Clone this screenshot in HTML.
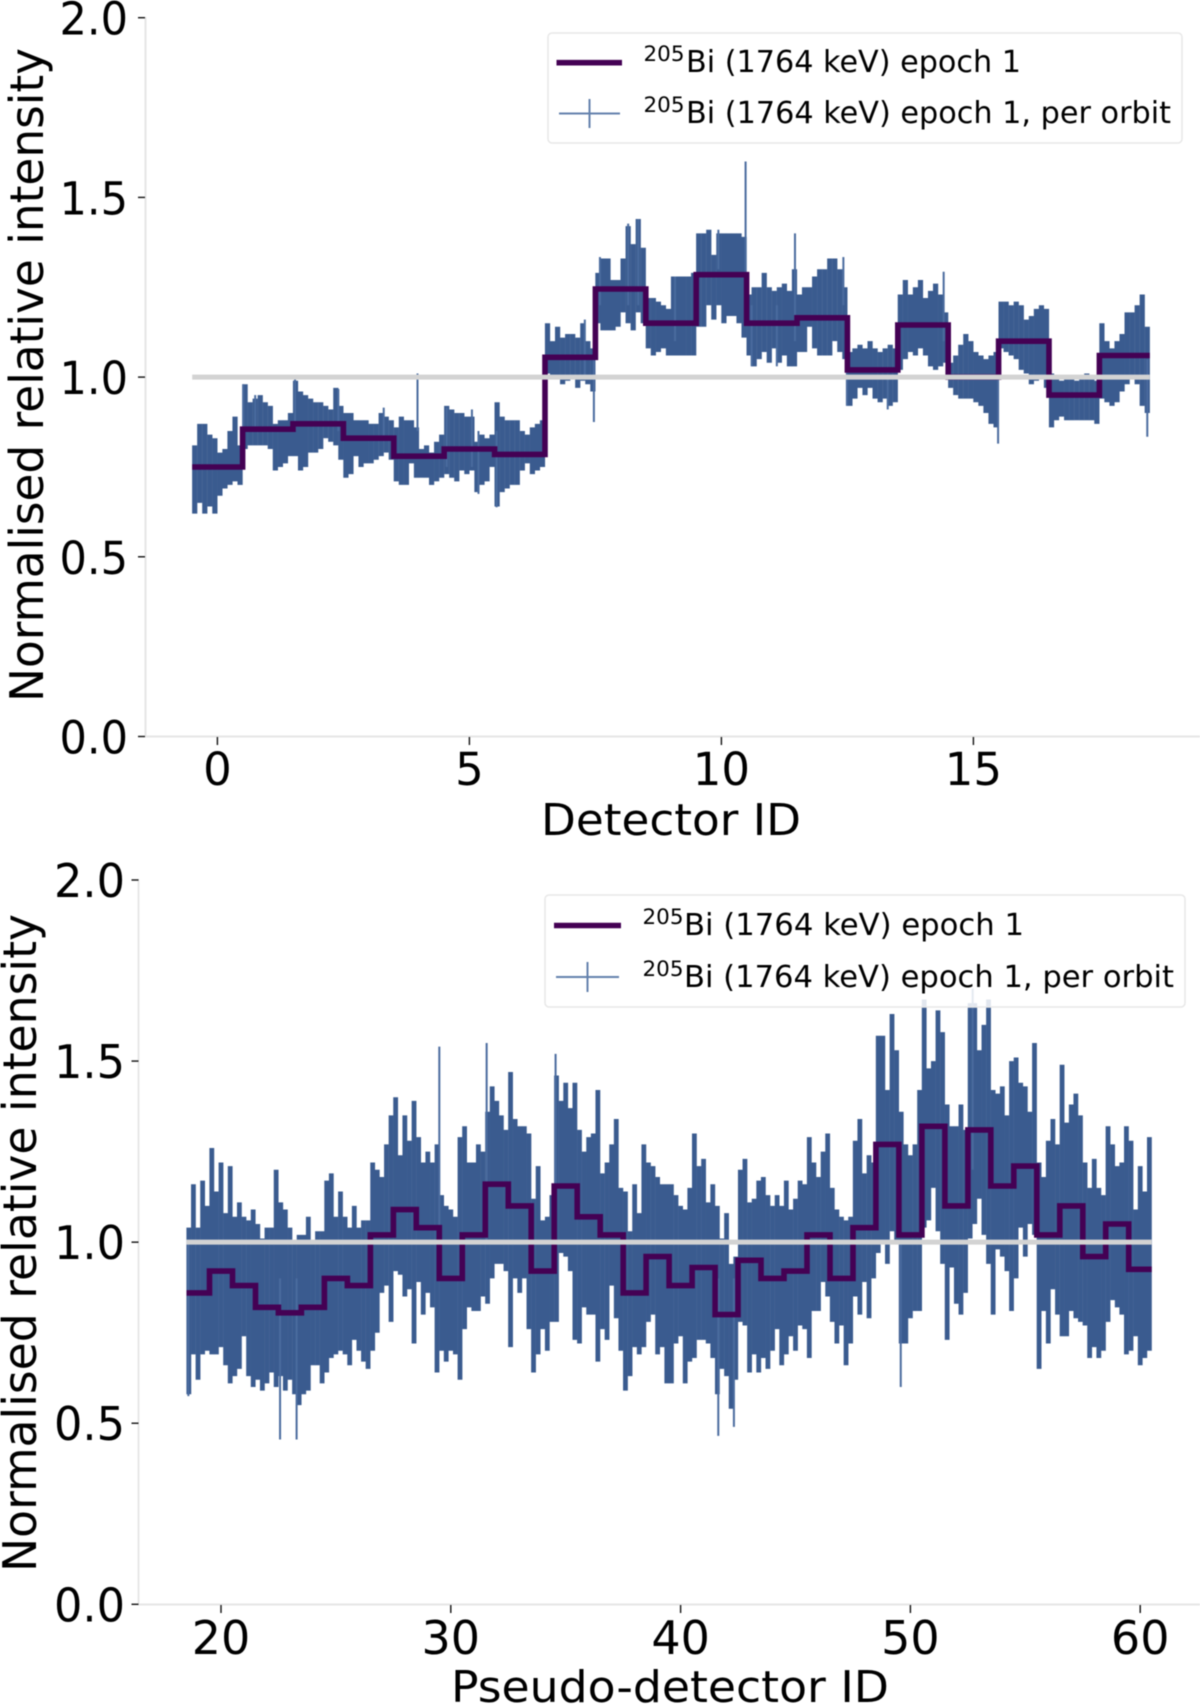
<!DOCTYPE html>
<html lang="en">
<head>
<meta charset="utf-8">
<title>205Bi normalised relative intensity per detector</title>
<style>
html,body{margin:0;padding:0;background:#fff;}
svg{display:block;filter:blur(.55px);}
text{font-family:"DejaVu Sans","Liberation Sans",sans-serif;fill:#000;}
</style>
</head>
<body>
<svg id="figure" xmlns="http://www.w3.org/2000/svg" width="1200" height="1707" viewBox="0 0 1200 1707">
  <rect x="0" y="0" width="1200" height="1707" fill="#fff"/>

  <g id="top-panel">
    <line x1="145.5" y1="17" x2="145.5" y2="737.5" stroke="#e6e6e6" stroke-width="2"/>
    <line x1="145" y1="736.5" x2="1200" y2="736.5" stroke="#e6e6e6" stroke-width="2"/>
    <g id="top-ticks"></g>
    <g id="top-bars"></g>
    <path id="top-step" fill="none" stroke="#440154" stroke-width="5.6"/>
    <line id="top-ref" stroke="#d3d3d3" stroke-width="5"/>
    <text x="541" y="835" font-size="44" textLength="260" lengthAdjust="spacingAndGlyphs">Detector ID</text>
    <text transform="translate(43,702) rotate(-90)" font-size="46" textLength="654" lengthAdjust="spacingAndGlyphs">Normalised relative intensity</text>
    <g>
      <rect x="548" y="33" width="634" height="110" rx="4" fill="#fff" fill-opacity=".85" stroke="#e8e8e8" stroke-width="1.5"/>
      <line x1="556.5" y1="62.7" x2="622" y2="62.7" stroke="#440154" stroke-width="5.6"/>
      <line x1="559" y1="113.5" x2="620" y2="113.5" stroke="#6482ad" stroke-width="2"/>
      <line x1="589.5" y1="99" x2="589.5" y2="128" stroke="#6482ad" stroke-width="2"/>
      <text x="643.5" y="61" font-size="21" textLength="41" lengthAdjust="spacingAndGlyphs">205</text>
      <text x="686" y="72" font-size="30" textLength="335" lengthAdjust="spacingAndGlyphs">Bi (1764 keV) epoch 1</text>
      <text x="643.5" y="112" font-size="21" textLength="41" lengthAdjust="spacingAndGlyphs">205</text>
      <text x="686" y="123" font-size="30" textLength="485" lengthAdjust="spacingAndGlyphs">Bi (1764 keV) epoch 1, per orbit</text>
    </g>
  </g>

  <g id="bottom-panel">
    <line x1="138.5" y1="879" x2="138.5" y2="1605" stroke="#e2e2e2" stroke-width="1.5"/>
    <line x1="138" y1="1604.5" x2="1200" y2="1604.5" stroke="#e6e6e6" stroke-width="2"/>
    <g id="bottom-ticks"></g>
    <g id="bottom-bars"></g>
    <path id="bottom-step" fill="none" stroke="#440154" stroke-width="5.6"/>
    <line id="bottom-ref" stroke="#d3d3d3" stroke-width="5"/>
    <text x="451" y="1702" font-size="44" textLength="438" lengthAdjust="spacingAndGlyphs">Pseudo-detector ID</text>
    <text transform="translate(36,1572) rotate(-90)" font-size="46" textLength="658" lengthAdjust="spacingAndGlyphs">Normalised relative intensity</text>
    <g>
      <rect x="545" y="895" width="640" height="112" rx="4" fill="#fff" fill-opacity=".85" stroke="#e8e8e8" stroke-width="1.5"/>
      <line x1="554" y1="925.5" x2="621" y2="925.5" stroke="#440154" stroke-width="5.6"/>
      <line x1="556" y1="977" x2="619" y2="977" stroke="#6482ad" stroke-width="2"/>
      <line x1="587.5" y1="962" x2="587.5" y2="992" stroke="#6482ad" stroke-width="2"/>
      <text x="642.5" y="924" font-size="21" textLength="41" lengthAdjust="spacingAndGlyphs">205</text>
      <text x="684" y="935" font-size="30" textLength="340" lengthAdjust="spacingAndGlyphs">Bi (1764 keV) epoch 1</text>
      <text x="642.5" y="976" font-size="21" textLength="41" lengthAdjust="spacingAndGlyphs">205</text>
      <text x="684" y="987" font-size="30" textLength="490" lengthAdjust="spacingAndGlyphs">Bi (1764 keV) epoch 1, per orbit</text>
    </g>
  </g>
</svg>
<script>
// ---------- top panel data ----------
const topYTicks = ['0.0','0.5','1.0','1.5','2.0'];
const topXTicks = ['0','5','10','15'];
const topDetectors = [0,1,2,3,4,5,6,7,8,9,10,11,12,13,14,15,16,17,18];
const topEpoch = [0.75,0.855,0.87,0.83,0.78,0.80,0.785,1.055,1.245,1.15,1.285,1.15,1.165,1.02,1.145,1.00,1.10,0.95,1.06];
// Per-orbit upper/lower envelope, percent, ten samples per detector
const topOrbitHigh = [
 81,87,87,84,83,79,80,85,89,81,
 98,93,94,95,93,92,87,88,88,90,
 99,96,95,94,93,93,92,91,97,92,
 90,90,88,88,88,87,87,90,89,88,
 86,89,88,88,86,80,81,79,82,84,
 92,91,90,90,89,89,82,84,83,84,
 93,89,88,88,88,85,84,86,87,88,
 115,110,114,111,112,112,111,115,110,108,
 129,133,133,127,127,133,142,137,144,136,
 122,122,121,120,119,128,128,128,128,129,
 140,140,141,134,140,140,140,140,140,139,
 123,125,125,129,125,124,125,126,124,130,
 123,125,125,128,130,130,133,133,130,125,
 107,108,109,108,110,108,107,108,109,108,
 123,127,123,125,127,122,124,126,123,118,
 104,106,109,112,110,107,106,105,106,107,
 121,121,120,121,120,116,117,119,120,119,
 101,100,99,100,100,99,100,101,100,99,
 115,110,108,110,112,118,118,120,123,114];
const topOrbitLow = [
 62,65,62,64,62,67,69,70,71,70,
 80,81,81,81,81,80,74,75,76,78,
 78,74,75,79,79,80,83,82,81,77,
 72,73,78,75,76,76,77,78,79,77,
 71,70,70,76,72,72,72,70,71,72,
 73,72,71,74,73,74,68,70,71,75,
 64,68,69,70,70,74,76,73,74,75,
 101,100,100,98,99,100,97,99,98,96,
 115,113,113,113,114,118,115,113,118,115,
 108,106,107,108,106,106,106,106,106,106,
 114,114,120,116,120,115,117,117,115,111,
 106,103,105,107,104,108,104,106,103,103,
 107,107,114,108,106,106,106,110,107,105,
 92,94,97,95,97,94,93,94,92,93,
 102,105,107,106,108,106,103,102,103,104,
 97,95,94,94,94,93,92,90,87,86,
 108,107,106,105,102,101,98,99,100,97,
 86,88,89,88,88,88,88,88,88,87,
 94,93,92,93,96,98,100,98,92,90];
// Isolated narrow orbit bars (detector id, upper, lower)
const topSpikeId = [0.51,0.75,1.54,2.4,3.3,3.97,4.55,5.05,5.18,5.54,7.29,7.47,7.59,8.15,8.35,9.08,9.94,10.48,10.6,11.1,11.46,12.42,12.49,13.3,14.41,15.49,18.45];
const topSpikeHigh = [0.98,0.95,0.995,0.967,0.915,1.01,0.915,0.91,0.85,0.85,1.16,1.05,1.334,1.427,1.44,1.28,1.41,1.60,1.2,1.2,1.40,1.334,1.02,1.0,1.293,1.05,1.05];
const topSpikeLow = [0.75,0.85,0.85,0.85,0.83,0.85,0.75,0.75,0.675,0.638,1.0,0.875,1.2,1.2,1.2,1.1,1.3,1.2,1.03,1.03,1.1,1.2,0.92,0.91,1.1,0.815,0.834];

// ---------- bottom panel data ----------
const bottomYTicks = ['0.0','0.5','1.0','1.5','2.0'];
const bottomXTicks = ['20','30','40','50','60'];
const bottomDetectors = [19,20,21,22,23,24,25,26,27,28,29,30,31,32,33,34,35,36,37,38,39,40,41,42,43,44,45,46,47,48,49,50,51,52,53,54,55,56,57,58,59,60];
const bottomEpoch = [0.86,0.92,0.88,0.82,0.805,0.82,0.90,0.88,1.02,1.09,1.04,0.90,1.02,1.16,1.10,0.92,1.155,1.07,1.02,0.86,0.96,0.88,0.93,0.80,0.95,0.90,0.92,1.02,0.90,1.04,1.27,1.02,1.32,1.10,1.31,1.155,1.21,1.02,1.10,0.96,1.05,0.925];
// Per-orbit upper/lower envelope, percent, five samples per pseudo-detector
const bottomOrbitHigh = [
 104,116,104,117,110, 126,114,122,108,121, 107,111,107,106,109, 105,101,104,104,120, 111,109,104,100,102,
 102,107,100,103,103, 117,119,107,114,107, 104,110,104,106,106, 122,120,118,127,135, 140,124,135,128,139,
 129,122,125,122,127, 113,110,109,107,129, 132,122,122,127,125, 136,143,139,135,131, 147,134,132,132,130,
 112,121,106,107,113, 146,139,144,137,144, 131,125,129,130,142, 119,122,127,134,115, 114,103,116,108,127,
 122,121,118,116,116, 116,113,110,109,115, 130,121,123,111,116, 110,101,108,94,96, 120,123,111,112,117,
 118,113,110,113,110, 117,109,112,117,116, 129,122,118,125,130, 115,109,107,106,107, 128,134,119,124,122,
 157,157,142,163,153, 136,127,124,127,142, 167,148,150,164,158, 138,132,132,138,131, 166,166,153,160,167,
 142,141,143,135,150, 151,144,143,136,155, 122,118,128,134,127, 149,133,138,141,135, 122,115,123,115,113,
 132,127,121,122,132, 128,109,121,114,129];
const bottomOrbitLow = [
 58,69,62,69,70, 69,69,71,66,61, 63,65,74,63,60, 62,59,61,64,60, 63,59,62,58,55,
 58,59,66,66,61, 64,68,69,70,69, 66,73,70,67,65, 70,75,86,88,78, 92,91,85,87,72,
 89,80,86,82,64, 70,67,70,69,62, 76,82,81,81,85, 83,90,94,94,92, 71,90,86,90,76,
 64,69,76,70,78, 78,97,96,92,73, 72,82,80,80,67, 76,73,88,79,70, 59,63,71,69,71,
 78,80,69,71,61, 61,72,74,61,67, 68,73,73,72,68, 58,65,63,54,62, 78,77,64,69,64,
 68,65,70,76,66, 69,74,70,77,76, 68,81,81,89,85, 78,72,77,66,72, 85,80,89,79,90,
 97,100,94,103,100, 72,72,79,81,81, 104,106,115,103,94, 73,93,83,80,86, 101,105,112,102,94,
 80,98,96,92,81, 90,104,96,105,102, 65,81,72,87,80, 74,74,81,79,78, 77,68,71,68,70,
 78,84,82,80,69, 70,74,66,68,70];
const bottomSpikeId = [18.58,22.57,23.29,29.5,31.56,34.56,41.64,42.32,49.58,52.71];
const bottomSpikeHigh = [1.0,0.9,0.9,1.54,1.55,1.52,0.9,0.9,1.0,1.70];
const bottomSpikeLow = [0.575,0.455,0.455,1.0,1.0,1.0,0.465,0.49,0.60,1.2];

// ---------- axis functions ----------
const topX = v => 217.4 + 50.4 * v;
const topY = v => 736.5 - 359.4 * v;
const bottomX = v => 221 + 22.98 * (v - 20);
const bottomY = v => 1604.3 - 362.15 * v;

const SVGNS = 'http://www.w3.org/2000/svg';
function make(tag, parent, attrs){
  const el = document.createElementNS(SVGNS, tag);
  for(const k in attrs){ el.setAttribute(k, attrs[k]); }
  parent.appendChild(el);
  return el;
}

function drawTicks(parent, xTicks, yTicks, xs, ys, yAxisX, xAxisY, xLabelBase, yLabelRight, yLabelWidth, fontSize){
  xTicks.forEach(t => {
    const px = xs(Number(t));
    const mark = make('line', parent, {x1:px, y1:xAxisY, x2:px, y2:xAxisY+8, stroke:'#111', 'stroke-width':1.4});
    
    
    const lab = make('text', parent, {x:px, y:xLabelBase, 'font-size':fontSize, 'text-anchor':'middle'});
    lab.textContent = t;
    
    
  });
  yTicks.forEach(t => {
    const py = ys(Number(t));
    const mark = make('line', parent, {x1:yAxisX-7, y1:py, x2:yAxisX, y2:py, stroke:'#111', 'stroke-width':1.4});
    
    
    const lab = make('text', parent, {x:yLabelRight-yLabelWidth, y:py+17, 'font-size':fontSize, textLength:yLabelWidth, lengthAdjust:'spacingAndGlyphs'});
    lab.textContent = t;
    
    
  });
}

function drawBars(parent, ids, high, low, perDet, xs, ys, width){
  const first = ids[0] - 0.5;
  high.forEach((h, i) => {
    const d = first + (i + 0.5) / perDet;
    const px = xs(d);
    const bar = make('line', parent, {x1:px, x2:px, y1:ys(h/100), y2:ys(low[i]/100), stroke:'#3a5b8f', 'stroke-width':width});
    
    
  });
}

function drawSpikes(parent, ids, high, low, xs, ys){
  ids.forEach((d, i) => {
    const px = xs(d);
    const sp = make('line', parent, {x1:px, x2:px, y1:ys(high[i]), y2:ys(low[i]), stroke:'#4a6b9e', 'stroke-width':2});
    
    
  });
}

function stepPath(ids, values, xs, ys){
  let d = '';
  values.forEach((v, i) => {
    d += (i === 0 ? 'M' : 'L') + xs(ids[i]-0.5).toFixed(1) + ' ' + ys(v).toFixed(1);
    d += 'L' + xs(ids[i]+0.5).toFixed(1) + ' ' + ys(v).toFixed(1);
  });
  return d;
}

function setRef(el, ids, xs, ys){
  el.setAttribute('x1', xs(ids[0]-0.5));
  el.setAttribute('x2', xs(ids[ids.length-1]+0.5));
  el.setAttribute('y1', ys(1));
  el.setAttribute('y2', ys(1));
}

drawTicks(document.getElementById('top-ticks'), topXTicks, topYTicks, topX, topY, 145, 737, 785, 128, 68.5, 45);
drawBars(document.getElementById('top-bars'), topDetectors, topOrbitHigh, topOrbitLow, 10, topX, topY, 5.2);
drawSpikes(document.getElementById('top-bars'), topSpikeId, topSpikeHigh, topSpikeLow, topX, topY);
document.getElementById('top-step').setAttribute('d', stepPath(topDetectors, topEpoch, topX, topY));
setRef(document.getElementById('top-ref'), topDetectors, topX, topY);

drawTicks(document.getElementById('bottom-ticks'), bottomXTicks, bottomYTicks, bottomX, bottomY, 138.5, 1605, 1654, 125, 71, 46);
drawBars(document.getElementById('bottom-bars'), bottomDetectors, bottomOrbitHigh, bottomOrbitLow, 5, bottomX, bottomY, 4.8);
drawSpikes(document.getElementById('bottom-bars'), bottomSpikeId, bottomSpikeHigh, bottomSpikeLow, bottomX, bottomY);
document.getElementById('bottom-step').setAttribute('d', stepPath(bottomDetectors, bottomEpoch, bottomX, bottomY));
setRef(document.getElementById('bottom-ref'), bottomDetectors, bottomX, bottomY);
</script>
</body>
</html>
